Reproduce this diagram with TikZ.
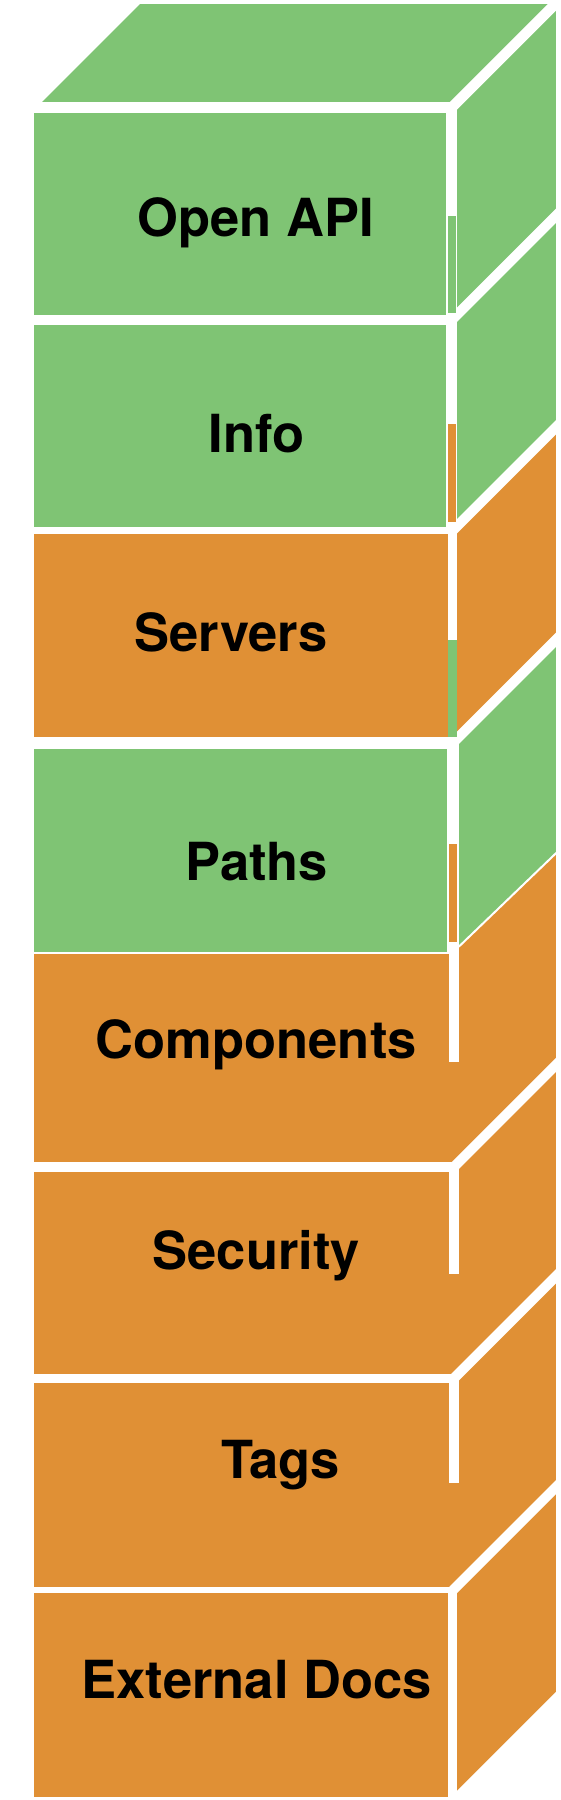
\documentclass[tikz,border=0pt]{standalone}
\usepackage{fontspec}
\setmainfont{TeX Gyre Heros}
\definecolor{cgreen}{HTML}{7FC474}
\definecolor{corange}{HTML}{E09035}
\tikzset{
  seamline/.style={draw=white,line width=#1,line cap=butt},
  seamline/.default=10,
  lbl/.style={font=\bfseries\fontsize{52.5}{60}\selectfont,anchor=base,inner sep=0pt,text=black}
}
\begin{document}
\begin{tikzpicture}[x=1pt,y=-1pt]
\useasboundingbox (0,0) rectangle (560,1800);
\fill[white] (0,0) rectangle (560,1800);
% ---- top face of the first cube
\fill[cgreen] (29,107.5) -- (137.5,-1) -- (561,-1) -- (452.5,107.5) -- cycle;
% ---- front faces
\fill[cgreen]  (34,107.5)  rectangle (452.5,320);
\fill[cgreen]  (34,320)    rectangle (452.5,530.5);
\fill[corange] (34,530.5)  rectangle (452.5,743);
\fill[cgreen]  (34,743)    rectangle (452.5,952.7);
\fill[corange] (34,952.7)  rectangle (452.5,1167);
\fill[corange] (34,1167)   rectangle (452.5,1378.7);
\fill[corange] (34,1378.7) rectangle (452.5,1590.3);
\fill[corange] (34,1590.3) rectangle (452.5,1797);
% ---- side faces
\fill[cgreen]  (452.5,107.5) -- (620,-60) -- (620,152.5) -- (452.5,320) -- cycle;
\fill[cgreen]  (452.5,320) -- (620,152.5) -- (620,363) -- (452.5,530.5) -- cycle;
\fill[corange] (452.5,530.5) -- (620,363) -- (620,575.5) -- (452.5,743) -- cycle;
\fill[cgreen]  (452.5,743) -- (620,575.5) -- (620,791.6) -- (452.5,952.8) -- cycle;
\fill[corange] (452.5,952.8) -- (620,791.6) -- (620,999.5) -- (452.5,1167) -- cycle;
\fill[corange] (452.5,1167) -- (620,999.5) -- (620,1211.2) -- (452.5,1378.7) -- cycle;
\fill[corange] (452.5,1378.7) -- (620,1211.2) -- (620,1422.8) -- (452.5,1590.3) -- cycle;
\fill[corange] (452.5,1590.3) -- (620,1422.8) -- (620,1634.5) -- (452.5,1802) -- cycle;
% ---- horizontal seams
\fill[white] (0,102)    rectangle (457.3,113);
\fill[white] (0,315)    rectangle (457.3,325);
\fill[white] (0,527.3)  rectangle (457.3,534);
\fill[white] (0,737)    rectangle (458.8,749);
\fill[white] (0,951.7)  rectangle (448.8,953.7);
\fill[white] (0,1162.3) rectangle (458.8,1171.7);
\fill[white] (0,1374)   rectangle (458.5,1383.3);
\fill[white] (0,1587.3) rectangle (457.3,1593.3);
\fill[white] (0,1797)   rectangle (560,1810);
% ---- diagonal seams
\draw[seamline=10.5] (451.7,107.5) -- (620,-60.8);
\draw[seamline] (451.7,320) -- (620,151.7);
\draw[seamline] (452.8,530.5) -- (620,363.3);
\draw[seamline] (452.8,743) -- (620,575.8);
\draw[seamline=2] (458.8,946.7) -- (620,791.6);
\draw[seamline] (453.8,1167) -- (620,1000.8);
\draw[seamline] (453.5,1378.7) -- (620,1212.2);
\draw[seamline] (452.8,1590.3) -- (620,1423.1);
\draw[seamline] (452.8,1802) -- (620,1634.8);
% ---- vertical seams
\fill[white] (446,107.5)   rectangle (457.3,320);
\fill[white] (446,320)     rectangle (457.3,530.5);
\fill[white] (448.3,530.5) rectangle (457.3,743);
\fill[white] (446.8,743)   rectangle (458.8,952.7);
\fill[white] (448.8,952.7) rectangle (458.8,1062);
\fill[white] (448.8,1167)  rectangle (458.8,1274);
\fill[white] (448.5,1378.7) rectangle (458.5,1483.3);
\fill[white] (448.3,1590.3) rectangle (457.3,1802);
% ---- strips seen through the seams
\fill[cgreen]  (448.3,216) rectangle (456,313);
\fill[corange] (448.3,424) rectangle (456,522);
\fill[cgreen]  (448.3,640) rectangle (457.3,736.7);
\fill[corange] (448.8,844) rectangle (456.7,941.7);
% ---- outer trims
\draw[seamline=10.5] (20,116.5) -- (150,-13.5);
\fill[white] (0,-10) rectangle (570,4);
\fill[white] (556,-10) rectangle (570,1810);
% ---- labels
\node[lbl] (openapi)    at (255.9,236.5) {Open API};
\node[lbl] (info)       at (256.4,452)   {Info};
\node[lbl] (servers)    at (231,651)     {Servers};
\node[lbl] (paths)      at (256.7,880)   {Paths};
\node[lbl] (components) at (256.2,1058)  {Components};
\node[lbl] (security)   at (256.3,1269)  {Security};
\node[lbl] (tags)       at (280.5,1478)  {Tags};
\node[lbl] (extdocs)    at (256.6,1698)  {External Docs};
\end{tikzpicture}
\end{document}
